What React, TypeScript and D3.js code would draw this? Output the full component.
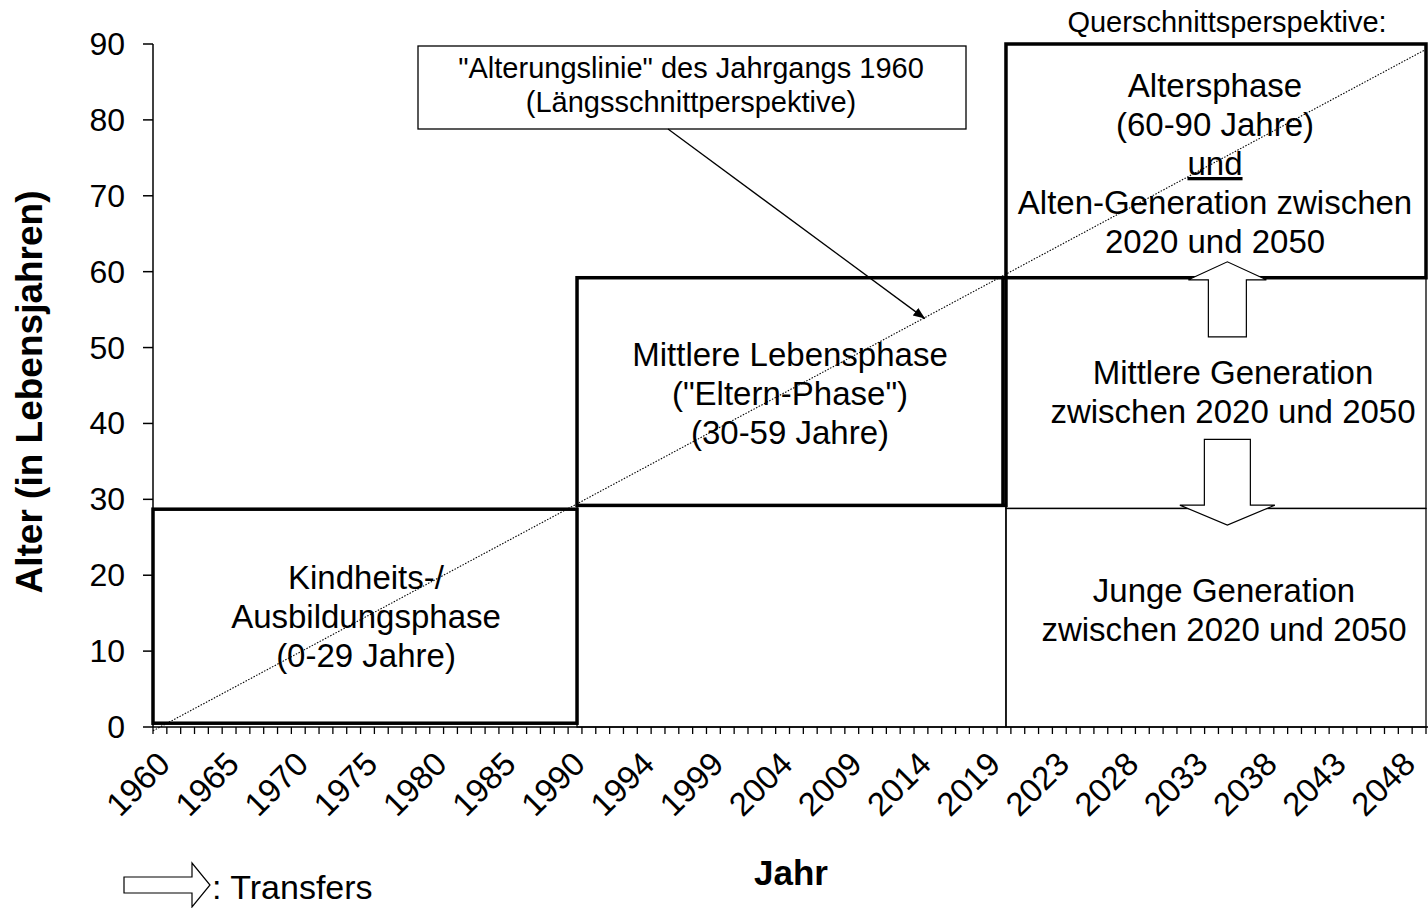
import * as d3 from "d3";

// category axis as in the original sheet (1990 and 2020 appear twice)
const categories: number[] = [
  ...d3.range(1960, 1991),
  ...d3.range(1990, 2021),
  ...d3.range(2020, 2050),
];
const labelEvery = 5;
const yTicks = [0, 10, 20, 30, 40, 50, 60, 70, 80, 90];

// Längsschnitt: Lebensphasen (thick boxes)
const phaseFrom = [1960, 1990, 2020];
const phaseTo = [1990, 2020, 2050];
const phaseAgeLow = [0.5, 29.2, 59.2];
const phaseAgeHigh = [28.7, 59.2, 90];
const phaseText = [
  ["Kindheits-/", "Ausbildungsphase", "(0-29 Jahre)"],
  ["Mittlere Lebensphase", '("Eltern-Phase")', "(30-59 Jahre)"],
  ["Altersphase", "(60-90 Jahre)", "und", "Alten-Generation zwischen", "2020 und 2050"],
];

// thin frame regions
const frameFrom = [1990, 2020, 2020];
const frameTo = [2020, 2050, 2050];
const frameAgeLow = [0, 0, 28.8];
const frameAgeHigh = [29.2, 28.8, 59.2];

// Querschnitt: Generationen 2020-2050
const generationText = [
  ["Junge Generation", "zwischen 2020 und 2050"],
  ["Mittlere Generation", "zwischen 2020 und 2050"],
];

// Alterungslinie des Jahrgangs 1960
const agingYears = [1960, 2050];
const agingAges = [-0.5, 89.3];
const calloutTargetYear = 2014;

// Transfers (block arrows)
const transferYear = 2035;
const transferFromAge = [51.4, 37.9];
const transferToAge = [61.3, 26.6];

const W = 1428;
const H = 908;
const FONT = "'Liberation Sans', Arial, Helvetica, sans-serif";

export default function App() {
  const band = d3
    .scaleBand<number>()
    .domain(d3.range(categories.length))
    .range([153, 1426])
    .padding(0);
  const y = d3.scaleLinear().domain([0, 90]).range([727, 44]);
  const [x0, x1] = band.range();

  // box edges sit on the centre of a year's first category (small nudge as in the sheet)
  const xYear = (yr: number) => {
    if (yr <= categories[0]) return x0;
    const i = categories.indexOf(yr);
    if (i < 0) return x1;
    return (band(i) as number) + band.bandwidth() / 2 + 2;
  };

  const agingX = agingYears.map(xYear);
  const agingY = agingAges.map((a) => y(a));
  const agingAt = (px: number) =>
    agingY[0] + ((px - agingX[0]) / (agingX[1] - agingX[0])) * (agingY[1] - agingY[0]);
  const agingPath = d3.line()(agingX.map((px, i) => [px, agingY[i]] as [number, number]));

  const tickXs = d3.range(categories.length + 1).map((i) => x0 + band.step() * i);

  const blockArrow = (cx: number, yFrom: number, yTo: number, shaftW: number, headW: number, headLen: number) => {
    const dir = Math.sign(yTo - yFrom);
    const hb = yTo - dir * headLen;
    const s = shaftW / 2;
    const h = headW / 2;
    return `M${cx - s},${yFrom}L${cx - s},${hb}L${cx - h},${hb}L${cx},${yTo}L${cx + h},${hb}L${cx + s},${hb}L${cx + s},${yFrom}Z`;
  };

  const targetX = xYear(calloutTargetYear);
  const targetY = agingAt(targetX);

  const boxFont = 33;
  const lineH = 39;

  const phaseLayout = [
    { cx: 366, base: 589 },
    { cx: 790, base: 366 },
    { cx: 1215, base: 97 },
  ];
  const genLayout = [
    { cx: 1224, base: 602 },
    { cx: 1233, base: 384 },
  ];

  return (
    <svg
      width={W}
      height={H}
      style={{ position: "absolute", left: 0, top: 0, display: "block" }}
      fontFamily={FONT}
    >
      <defs>
        <marker id="ah" viewBox="0 0 10 10" refX="10" refY="5" markerWidth="9" markerHeight="9" orient="auto">
          <path d="M0,1L10,5L0,9Z" fill="#000" />
        </marker>
      </defs>
      <rect width={W} height={H} fill="#fff" />

      {/* thin frame regions */}
      {frameFrom.map((f, i) => (
        <rect
          key={"fr" + i}
          x={xYear(f)}
          y={y(frameAgeHigh[i])}
          width={xYear(frameTo[i]) - xYear(f)}
          height={y(frameAgeLow[i]) - y(frameAgeHigh[i])}
          fill="none"
          stroke="#000"
          strokeWidth={1.3}
        />
      ))}

      {/* thick phase boxes */}
      {phaseFrom.map((f, i) => (
        <rect
          key={"ph" + i}
          x={xYear(f)}
          y={y(phaseAgeHigh[i])}
          width={xYear(phaseTo[i]) - xYear(f)}
          height={y(phaseAgeLow[i]) - y(phaseAgeHigh[i])}
          fill="none"
          stroke="#000"
          strokeWidth={3.5}
        />
      ))}
      {/* left edge of middle generation */}
      <line
        x1={xYear(2020) - 3}
        x2={xYear(2020) - 3}
        y1={y(phaseAgeHigh[1])}
        y2={y(phaseAgeLow[1])}
        stroke="#000"
        strokeWidth={3.5}
      />

      {/* axes */}
      <line x1={x0} x2={x0} y1={y(90)} y2={y(0)} stroke="#000" strokeWidth={1.5} />
      {yTicks.map((t) => (
        <g key={"yt" + t}>
          <line x1={x0 - 10} x2={x0} y1={y(t)} y2={y(t)} stroke="#000" strokeWidth={1.5} />
          <text x={125} y={y(t) + 11} textAnchor="end" fontSize={32} fill="#000">
            {t}
          </text>
        </g>
      ))}
      <line x1={x0} x2={W} y1={y(0)} y2={y(0)} stroke="#000" strokeWidth={1.5} />
      {tickXs.map((tx, i) => (
        <line key={"xt" + i} x1={tx} x2={tx} y1={y(0)} y2={y(0) + 7} stroke="#000" strokeWidth={1.3} />
      ))}
      {categories.map((c, i) =>
        i % labelEvery === 0 ? (
          <text
            key={"xl" + i}
            transform={`translate(${(band(i) as number) + band.bandwidth() / 2 + 12},766) rotate(-45)`}
            textAnchor="end"
            fontSize={33}
            fill="#000"
          >
            {c}
          </text>
        ) : null
      )}

      <text transform="translate(42,392) rotate(-90)" textAnchor="middle" fontSize={37} fontWeight="bold">
        Alter (in Lebensjahren)
      </text>
      <text x={791} y={885} textAnchor="middle" fontSize={35} fontWeight="bold">
        Jahr
      </text>

      {/* phase texts */}
      {phaseText.map((lines, i) =>
        lines.map((ln, j) => (
          <text
            key={"pt" + i + "-" + j}
            x={phaseLayout[i].cx}
            y={phaseLayout[i].base + j * lineH}
            textAnchor="middle"
            fontSize={boxFont}
            style={ln === "und" ? { textDecoration: "underline" } : undefined}
          >
            {ln}
          </text>
        ))
      )}
      {generationText.map((lines, i) =>
        lines.map((ln, j) => (
          <text
            key={"gt" + i + "-" + j}
            x={genLayout[i].cx}
            y={genLayout[i].base + j * lineH}
            textAnchor="middle"
            fontSize={boxFont}
          >
            {ln}
          </text>
        ))
      )}

      {/* transfer arrows */}
      <path
        d={blockArrow(xYear(transferYear), y(transferFromAge[0]), y(transferToAge[0]), 38, 78, 18)}
        fill="#fff"
        stroke="#000"
        strokeWidth={1.2}
      />
      <path
        d={blockArrow(xYear(transferYear), y(transferFromAge[1]), y(transferToAge[1]), 46, 95, 20)}
        fill="#fff"
        stroke="#000"
        strokeWidth={1.2}
      />

      {/* aging line */}
      <path d={agingPath ?? ""} fill="none" stroke="#000" strokeWidth={1.1} strokeDasharray="1.5 1.5" />

      {/* callout */}
      <rect x={418} y={46} width={548} height={83} fill="#fff" stroke="#000" strokeWidth={1.3} />
      <text x={691} y={78} textAnchor="middle" fontSize={29}>
        "Alterungslinie" des Jahrgangs 1960
      </text>
      <text x={691} y={112} textAnchor="middle" fontSize={29}>
        (Längsschnittperspektive)
      </text>
      <line x1={668} y1={129} x2={targetX + 2} y2={targetY} stroke="#000" strokeWidth={1.3} markerEnd="url(#ah)" />

      <text x={1227} y={32} textAnchor="middle" fontSize={29}>
        Querschnittsperspektive:
      </text>

      {/* legend */}
      <path
        d="M124,877L192,877L192,863L210,885L192,907L192,893L124,893Z"
        fill="#fff"
        stroke="#000"
        strokeWidth={1.2}
      />
      <text x={212} y={899} fontSize={34}>
        : Transfers
      </text>
    </svg>
  );
}
